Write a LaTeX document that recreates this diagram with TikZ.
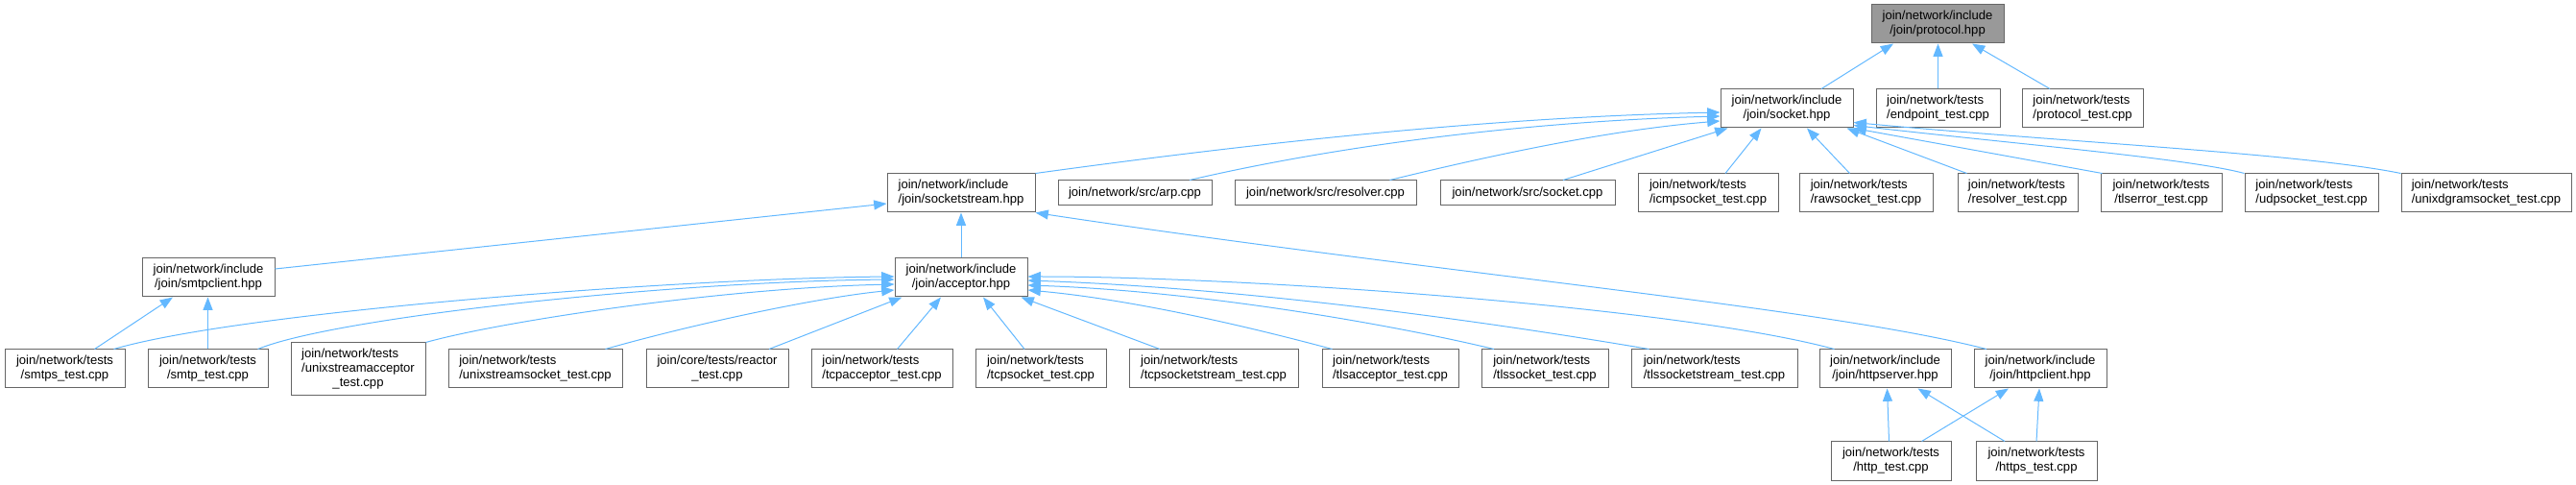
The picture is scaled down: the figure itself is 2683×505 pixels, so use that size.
\documentclass[tikz,border=0pt]{standalone}
\usepackage{fontspec}
\setmainfont{Liberation Sans}
\usetikzlibrary{arrows.meta}

\definecolor{edgeblue}{HTML}{63B8FF}
\definecolor{boxgray}{HTML}{666666}
\definecolor{rootgray}{HTML}{999999}

% label with left-set first line(s) and centred last line
\newcommand{\lbltwo}[2]{\begin{tabular}{@{}c@{}}\multicolumn{1}{@{}l@{}}{#1}\\#2\end{tabular}}
\newcommand{\lblthree}[3]{\begin{tabular}{@{}c@{}}\multicolumn{1}{@{}l@{}}{#1}\\\multicolumn{1}{@{}l@{}}{#2}\\#3\end{tabular}}

\begin{document}
\begin{tikzpicture}[
    x=0.75pt, y=-0.75pt,
    >={Triangle[length=10pt,width=7.5pt]},
    box/.style={
        draw=boxgray,
        fill=white,
        line width=0.75pt,
        inner sep=0pt,
        minimum height=30pt,
        font=\fontsize{9.8}{11.25}\selectfont,
    },
    wd/.style={minimum width=#1*0.75pt},
    oneline/.style={minimum height=19.5pt},
    threeline/.style={minimum height=41.25pt},
    root/.style={fill=rootgray},
    dep/.style={->, draw=edgeblue, line width=0.75pt},
]
\useasboundingbox (0,0) rectangle (2683,505);

% --- Row 0: the header itself ---
\node[box, root, wd=138] (proto) at (2018,25) {\lbltwo{join/network/include}{/join/protocol.hpp}};

% --- Row 1 ---
\node[box, wd=138] (sock) at (1861,113) {\lbltwo{join/network/include}{/join/socket.hpp}};
\node[box, wd=129] (endpt) at (2018.5,113) {\lbltwo{join/network/tests}{/endpoint\_test.cpp}};
\node[box, wd=126] (prototest) at (2169,113) {\lbltwo{join/network/tests}{/protocol\_test.cpp}};

% --- Row 2 ---
\node[box, wd=154] (sstream) at (1001,201) {\lbltwo{join/network/include}{/join/socketstream.hpp}};
\node[box, oneline, wd=160] (arp) at (1182,201) {join/network/src/arp.cpp};
\node[box, oneline, wd=189] (resolvsrc) at (1380.5,201) {join/network/src/resolver.cpp};
\node[box, oneline, wd=182] (socksrc) at (1591,201) {join/network/src/socket.cpp};
\node[box, wd=146] (icmp) at (1779,201) {\lbltwo{join/network/tests}{/icmpsocket\_test.cpp}};
\node[box, wd=139] (raw) at (1943.5,201) {\lbltwo{join/network/tests}{/rawsocket\_test.cpp}};
\node[box, wd=125] (restest) at (2101.5,201) {\lbltwo{join/network/tests}{/resolver\_test.cpp}};
\node[box, wd=126] (tlserr) at (2251,201) {\lbltwo{join/network/tests}{/tlserror\_test.cpp}};
\node[box, wd=139] (udp) at (2407.5,201) {\lbltwo{join/network/tests}{/udpsocket\_test.cpp}};
\node[box, wd=177] (unixdgram) at (2589.5,201) {\lbltwo{join/network/tests}{/unixdgramsocket\_test.cpp}};

% --- Row 3 ---
\node[box, wd=138] (smtpcl) at (217,289) {\lbltwo{join/network/include}{/join/smtpclient.hpp}};
\node[box, wd=138] (acc) at (1001,289) {\lbltwo{join/network/include}{/join/acceptor.hpp}};

% --- Row 4 ---
\node[box, wd=125] (smtps) at (67.5,384) {\lbltwo{join/network/tests}{/smtps\_test.cpp}};
\node[box, wd=125] (smtp) at (216.5,384) {\lbltwo{join/network/tests}{/smtp\_test.cpp}};
\node[box, threeline, wd=140] (uxsacc) at (373,384.5) {\lblthree{join/network/tests}{/unixstreamacceptor}{\_test.cpp}};
\node[box, wd=181] (uxssock) at (557.5,384) {\lbltwo{join/network/tests}{/unixstreamsocket\_test.cpp}};
\node[box, wd=148] (reactor) at (747,384) {\lbltwo{join/core/tests/reactor}{\_test.cpp}};
\node[box, wd=147] (tcpacc) at (918.5,384) {\lbltwo{join/network/tests}{/tcpacceptor\_test.cpp}};
\node[box, wd=136] (tcpsock) at (1084,384) {\lbltwo{join/network/tests}{/tcpsocket\_test.cpp}};
\node[box, wd=176] (tcpss) at (1264,384) {\lbltwo{join/network/tests}{/tcpsocketstream\_test.cpp}};
\node[box, wd=142] (tlsacc) at (1448,384) {\lbltwo{join/network/tests}{/tlsacceptor\_test.cpp}};
\node[box, wd=132] (tlssock) at (1609,384) {\lbltwo{join/network/tests}{/tlssocket\_test.cpp}};
\node[box, wd=173] (tlsss) at (1785.5,384) {\lbltwo{join/network/tests}{/tlssocketstream\_test.cpp}};
\node[box, wd=137] (httpsrv) at (1963.5,384) {\lbltwo{join/network/include}{/join/httpserver.hpp}};
\node[box, wd=138] (httpcl) at (2125,384) {\lbltwo{join/network/include}{/join/httpclient.hpp}};

% --- Row 5 ---
\node[box, wd=125] (httptest) at (1969.5,480) {\lbltwo{join/network/tests}{/http\_test.cpp}};
\node[box, wd=126] (httpstest) at (2121,480) {\lbltwo{join/network/tests}{/https\_test.cpp}};

% --- Edges into protocol.hpp ---
\draw[dep] ([shift={(36,0)}]sock.north) -- ([shift={(-46,0)}]proto.south);
\draw[dep] (endpt.north) -- (endpt.north |- proto.south);
\draw[dep] ([shift={(-34,0)}]prototest.north) -- ([shift={(36,0)}]proto.south);

% --- Edges into socket.hpp ---
\draw[dep] (sstream.north east) .. controls (1300,150) and (1550,122) .. ([shift={(0,4)}]sock.west);
\draw[dep] ([shift={(57,0)}]arp.north) .. controls (1400,150) and (1600,126) .. ([shift={(0,8)}]sock.west);
\draw[dep] ([shift={(67,0)}]resolvsrc.north) .. controls (1560,160) and (1680,135) .. ([shift={(0,13)}]sock.west);
\draw[dep] ([shift={(37,0)}]socksrc.north) -- ([shift={(8,0)}]sock.south west);
\draw[dep] ([shift={(18,0)}]icmp.north) -- ([shift={(43,0)}]sock.south west);
\draw[dep] ([shift={(-17,0)}]raw.north) -- ([shift={(21,0)}]sock.south);
\draw[dep] ([shift={(-53,0)}]restest.north) -- ([shift={(-7,0)}]sock.south east);
\draw[dep] ([shift={(2,0)}]tlserr.north west) -- (sock.south east);
\draw[dep] (udp.north west) .. controls (2280,165) and (2100,150) .. ([shift={(0,-3)}]sock.south east);
\draw[dep] (unixdgram.north west) .. controls (2400,160) and (2150,148) .. ([shift={(0,-6)}]sock.south east);

% --- Edges into socketstream.hpp ---
\draw[dep] ([shift={(0,-9)}]smtpcl.east) -- ([shift={(0,11)}]sstream.west);
\draw[dep] (acc.north) -- (sstream.south);
\draw[dep] ([shift={(-56,0)}]httpcl.north) .. controls (1900,320) and (1500,285) .. (sstream.south east);

% --- Edges into smtpclient.hpp ---
\draw[dep] ([shift={(31,0)}]smtps.north) -- ([shift={(-37,0)}]smtpcl.south);
\draw[dep] (smtp.north) -- (smtp.north |- smtpcl.south);

% --- Edges into acceptor.hpp ---
\draw[dep] ([shift={(-12,0)}]smtps.north east) .. controls (250,325) and (700,290) .. ([shift={(0,-1)}]acc.west);
\draw[dep] ([shift={(-11,0)}]smtp.north east) .. controls (350,330) and (700,293) .. ([shift={(0,2)}]acc.west);
\draw[dep] (uxsacc.north east) .. controls (520,335) and (750,300) .. ([shift={(0,7)}]acc.west);
\draw[dep] ([shift={(73,0)}]uxssock.north) .. controls (720,338) and (850,310) .. ([shift={(0,13)}]acc.west);
\draw[dep] ([shift={(54,0)}]reactor.north) -- ([shift={(8,0)}]acc.south west);
\draw[dep] ([shift={(16,0)}]tcpacc.north) -- ([shift={(-21,0)}]acc.south);
\draw[dep] ([shift={(-17,0)}]tcpsock.north) -- ([shift={(23,0)}]acc.south);
\draw[dep] ([shift={(-56,0)}]tcpss.north) -- ([shift={(-7,0)}]acc.south east);
\draw[dep] ([shift={(11,0)}]tlsacc.north west) .. controls (1300,340) and (1180,312) .. ([shift={(0,13)}]acc.east);
\draw[dep] ([shift={(-53,0)}]tlssock.north) .. controls (1450,338) and (1250,303) .. ([shift={(0,8)}]acc.east);
\draw[dep] ([shift={(19,0)}]tlsss.north west) .. controls (1550,335) and (1300,300) .. ([shift={(0,3)}]acc.east);
\draw[dep] ([shift={(16,0)}]httpsrv.north west) .. controls (1750,320) and (1300,288) .. ([shift={(0,-1)}]acc.east);

% --- Edges into httpserver.hpp / httpclient.hpp ---
\draw[dep] ([shift={(-2,0)}]httptest.north) -- ([shift={(2,0)}]httpsrv.south);
\draw[dep] ([shift={(-33,0)}]httpstest.north) -- ([shift={(34,0)}]httpsrv.south);
\draw[dep] ([shift={(32,0)}]httptest.north) -- ([shift={(-33,0)}]httpcl.south);
\draw[dep] (httpstest.north) -- ([shift={(-1,0)}]httpcl.south);

\end{tikzpicture}
\end{document}
